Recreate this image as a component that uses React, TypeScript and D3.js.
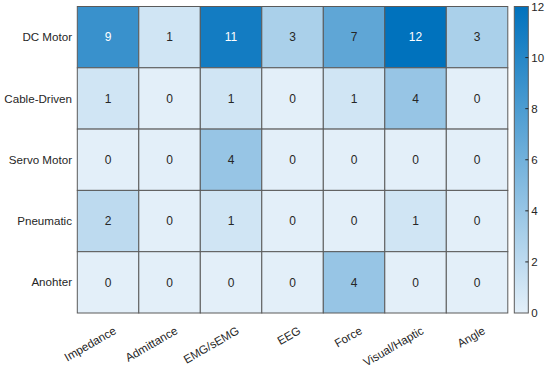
import React from "react";
import * as d3 from "d3";

const rows = ["DC Motor", "Cable-Driven", "Servo Motor", "Pneumatic", "Anohter"];
const cols = ["Impedance", "Admittance", "EMG/sEMG", "EEG", "Force", "Visual/Haptic", "Angle"];
const dcMotor = [9, 1, 11, 3, 7, 12, 3];
const cableDriven = [1, 0, 1, 0, 1, 4, 0];
const servoMotor = [0, 0, 4, 0, 0, 0, 0];
const pneumatic = [2, 0, 1, 0, 0, 1, 0];
const anohter = [0, 0, 0, 0, 4, 0, 0];
const matrix = [dcMotor, cableDriven, servoMotor, pneumatic, anohter];
const colorTicks = [0, 2, 4, 6, 8, 10, 12];

const W = 550, H = 368;
const gx0 = 77.3, gx1 = 507.8, gy0 = 6.5, gy1 = 313;
const cbX0 = 514.3, cbX1 = 528.3;
const font = "'Liberation Sans', Arial, Helvetica, sans-serif";

export default function App() {
  const x = d3.scaleBand().domain(cols).range([gx0, gx1]);
  const y = d3.scaleBand().domain(rows).range([gy0, gy1]);
  const color = d3.scaleLinear<string>().domain([0, 12]).range(["#e3eff9", "#0072bd"]).interpolate(d3.interpolateRgb);
  const cb = d3.scaleLinear().domain([0, 12]).range([gy1, gy0]);
  const stops = d3.range(0, 13, 1);
  return (
    <svg width={W} height={H} style={{ position: "absolute", left: 0, top: 0, background: "#fff" }} fontFamily={font}>
      <defs>
        <linearGradient id="cbg" x1="0" y1="1" x2="0" y2="0">
          {stops.map((s) => (
            <stop key={s} offset={s / 12} stopColor={color(s)} />
          ))}
        </linearGradient>
      </defs>
      {matrix.map((vals, ri) =>
        vals.map((v, ci) => (
          <g key={`${ri}-${ci}`}>
            <rect x={x(cols[ci])!} y={y(rows[ri])!} width={x.bandwidth()} height={y.bandwidth()} fill={color(v)} stroke="#5a5a5a" strokeWidth={1} />
            <text x={x(cols[ci])! + x.bandwidth() / 2} y={y(rows[ri])! + y.bandwidth() / 2} dy="0.35em" textAnchor="middle" fontSize={12} fill={v >= 9 ? "#ffffff" : "#262626"}>
              {v}
            </text>
          </g>
        ))
      )}
      {rows.map((r) => (
        <text key={r} x={72} y={y(r)! + y.bandwidth() / 2} dy="0.35em" textAnchor="end" fontSize={11.6} fill="#262626">
          {r}
        </text>
      ))}
      {cols.map((c) => {
        const cx = x(c)! + x.bandwidth() / 2 + 9;
        const cy = gy1 + 20;
        return (
          <text key={c} transform={`translate(${cx},${cy}) rotate(-30)`} textAnchor="end" fontSize={11.6} fill="#262626">
            {c}
          </text>
        );
      })}
      <rect x={cbX0} y={gy0} width={cbX1 - cbX0} height={gy1 - gy0} fill="url(#cbg)" stroke="#5a5a5a" strokeWidth={1} />
      {colorTicks.map((t) => (
        <g key={t}>
          {t !== 0 && t !== 12 && <line x1={cbX1 - 3} x2={cbX1} y1={cb(t)} y2={cb(t)} stroke="#262626" strokeWidth={1} />}
          <text x={cbX1 + 3} y={cb(t)} dy="0.35em" fontSize={11.5} fill="#262626">
            {t}
          </text>
        </g>
      ))}
    </svg>
  );
}
